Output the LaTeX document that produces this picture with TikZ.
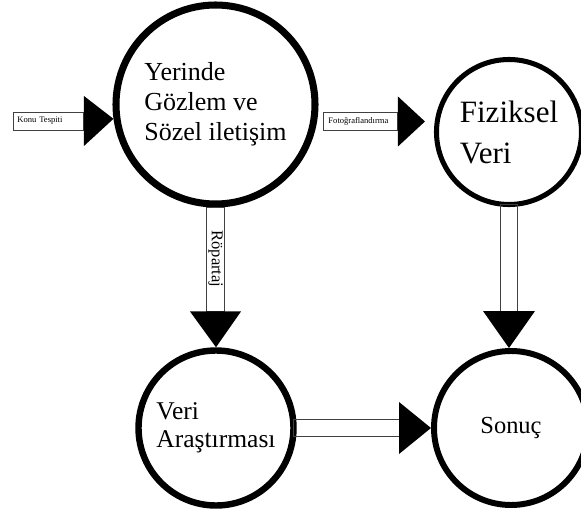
\documentclass[tikz,border=0pt]{standalone}
\usepackage{fontspec}
\setmainfont{Liberation Serif}
\usepackage{tikz}
\tikzset{>=latex}
\usetikzlibrary{calc,positioning,shapes.geometric}
\tikzset{
  stage/.style={circle, draw=black, fill=none, align=left, inner sep=0pt},
  shaft/.style={draw=black!75, line width=0.8pt},
  shaftbox/.style={shaft, rectangle, inner ysep=0pt, minimum height=0.54cm},
  head/.style={fill=black, draw=none}
}

\begin{document}
\begin{tikzpicture}[x=0.03cm, y=-0.03cm]
            \useasboundingbox (0,0) rectangle (581,510);

            \node[stage, line width=6pt, minimum size=5.97cm, font=\fontsize{22.2}{25.6}\selectfont] (gozlem) at (215.5,104.5) {Yerinde\\Gözlem ve\\Sözel iletişim};
            \node[stage, line width=4.3pt, minimum size=4.35cm, font=\fontsize{26.5}{35}\selectfont] (fiziksel) at (509,132) {Fiziksel\\Veri};
            \node[stage, line width=5.5pt, minimum size=4.65cm, font=\fontsize{21.8}{23.9}\selectfont] (veri) at (216,428) {Veri\\Araştırması};
            \node[stage, line width=5.1pt, minimum size=4.62cm, font=\fontsize{20.9}{24}\selectfont] (sonuc) at (511,428) {Sonuç};

            \node[shaftbox, anchor=west, minimum width=2.1cm, inner xsep=0.12cm, text width=1.86cm, align=left, font=\fontsize{7.3}{8}\selectfont] (konu) at (13,121) {Konu Tespiti};
            \fill[head] ($(konu.east)+(0,-25)$) -- (gozlem.188) -- ($(konu.east)+(0,25)$) -- cycle;

            \node[shaftbox, anchor=west, minimum width=2.22cm, inner xsep=0.15cm, text width=1.92cm, align=left, font=\fontsize{7.3}{8}\selectfont] (foto) at (323,121.5) {Fotoğraflandırma};
            \fill[head] ($(foto.east)+(0,-25)$) -- ($(foto.east)+(27,0)$) -- ($(foto.east)+(0,25)$) -- cycle;

            \node[shaftbox, rotate=-90, anchor=west, minimum width=3.12cm, font=\fontsize{14.1}{15}\selectfont] (ropartaj) at ($(gozlem.south)+(0,-1)$) {Röpartaj};
            \fill[head] ($(ropartaj.east)+(-25.5,0)$) -- (veri.north) -- ($(ropartaj.east)+(25.5,0)$) -- cycle;

            \draw[shaft] ($(fiziksel.south)+(-8.5,-3)$) rectangle ($(fiziksel.south |- sonuc.north)+(8.5,-37)$);
            \fill[head] ($(fiziksel.south |- sonuc.north)+(-26,-37)$) -- (fiziksel.south |- sonuc.north) -- ($(fiziksel.south |- sonuc.north)+(26,-37)$) -- cycle;

            \draw[shaft] ($(veri.east)+(-3,-8.5)$) rectangle ($(sonuc.west)+(-32,8.5)$);
            \fill[head] ($(sonuc.west)+(-32,-26)$) -- (sonuc.west) -- ($(sonuc.west)+(-32,26)$) -- cycle;
        \end{tikzpicture}
\end{document}
